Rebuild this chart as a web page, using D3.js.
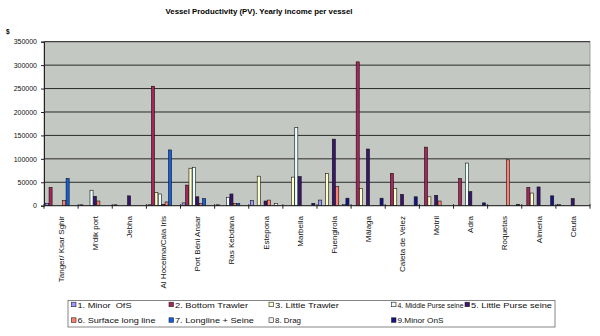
<!DOCTYPE html>
<html><head><meta charset="utf-8">
<script src="https://cdn.jsdelivr.net/npm/d3@7"></script>
<style>body{margin:0;background:#fff}svg{display:block;font-family:Arial,"Liberation Sans",sans-serif}</style>
</head><body>
<svg id="c" width="600" height="336"></svg>
<script>
const title = "Vessel Productivity (PV). Yearly income per vessel";
const categories = ["Tanger/ Ksar Sghir","M'dik port","Jebha","Al Hoceima/Cala Iris","Port Béni Ansar","Ras Kebdana","Estepona","Marbella","Fuengirola","Málaga","Caleta de Velez","Motril","Adra","Roquetas","Almeria","Ceuta"];
const seriesNames = ["1. Minor  OfS","2. Bottom Trawler","3. Little Trawler","4. Middle Purse seine","5. Little Purse seine","6. Surface long line","7. Longline + Seine","8. Drag","9.Minor OnS"];
const seriesColors = ["#9999FF","#A8245A","#FFFFCC","#EAFFFF","#3B1470","#FF8070","#1060E0","#F4F4FF","#141488"];
const s1 = [5000,2000,2000,2000,6000,2000,11000,0,12000,0,0,0,0,0,0,3000];
const s2 = [39000,0,0,255000,44000,0,0,0,0,307000,69000,125000,58000,0,39000,0];
const s3 = [0,0,0,28000,80000,0,63000,61000,69000,37000,37000,19000,0,0,27000,0];
const s4 = [0,33000,0,25000,82000,18000,0,167000,0,0,0,0,91000,0,0,0];
const s5 = [0,20000,21000,3000,19000,25000,10000,62000,142000,121000,24000,22000,30000,0,40000,15000];
const s6 = [11000,10000,0,8000,5000,5000,12000,0,41000,0,0,10000,0,98000,0,0];
const s7 = [58000,0,0,119000,15000,5000,0,0,0,0,0,0,0,0,0,0];
const s8 = [0,0,0,0,0,0,5000,0,3000,0,0,0,0,0,0,0];
const s9 = [0,0,0,0,0,0,0,5000,16000,16000,19000,0,6000,3000,21000,0];
const seriesValues = [s1,s2,s3,s4,s5,s6,s7,s8,s9];
const yTicks = [0,50000,100000,150000,200000,250000,300000,350000];

const svg = d3.select("#c");
const L=44, R=590, T=41.7, B=205.7;
const x0 = d3.scaleBand().domain(categories).range([L,R]).padding(0);
const x1 = d3.scaleBand().domain(d3.range(9)).range([1.3, x0.bandwidth()-1.8]).padding(0.1);
const y = d3.scaleLinear().domain([0,350000]).range([B,T]);

svg.append("text").attr("x",259).attr("y",14).attr("text-anchor","middle")
  .attr("font-size","8px").attr("font-weight","bold").attr("textLength",187).attr("lengthAdjust","spacingAndGlyphs").text(title);
svg.append("text").attr("x",6).attr("y",34).attr("font-size","6.5px").attr("font-weight","bold").text("$");

svg.append("rect").attr("x",L).attr("y",T).attr("width",R-L).attr("height",B-T).attr("fill","#C4C8C2").attr("stroke","#8a8a8a").attr("stroke-width",0.8);

// gridlines
svg.append("g").selectAll("line").data(yTicks.slice(1)).join("line")
  .attr("x1",L).attr("x2",R).attr("y1",d=>y(d)).attr("y2",d=>y(d))
  .attr("stroke","#2a2a2a").attr("stroke-width",1);

// y axis
const ya = svg.append("g").attr("transform",`translate(${L},0)`)
  .call(d3.axisLeft(y).tickValues(yTicks).tickSize(3).tickPadding(4).tickFormat(d3.format("d")));
ya.select(".domain").attr("stroke","#222");
ya.selectAll("text").attr("font-size","7px").attr("font-family","Arial,'Liberation Sans',sans-serif").attr("fill","#111");
ya.selectAll(".tick line").attr("stroke","#222");

// bars
const g = svg.append("g");
categories.forEach((c,ci)=>{
  seriesValues.forEach((vals,si)=>{
    const v = vals[ci];
    if(!v) return;
    g.append("rect").attr("x",x0(c)+x1(si)).attr("y",y(v)).attr("width",x1.bandwidth()).attr("height",B-y(v))
      .attr("fill",seriesColors[si]).attr("stroke","#111").attr("stroke-width",0.6);
  });
});

// x axis
svg.append("line").attr("x1",L).attr("x2",R).attr("y1",B).attr("y2",B).attr("stroke","#222").attr("stroke-width",1);
const bounds = categories.map(c=>x0(c)).concat([R]);
svg.append("g").selectAll("line").data(bounds).join("line")
  .attr("x1",d=>d).attr("x2",d=>d).attr("y1",B-1.5).attr("y2",B+3).attr("stroke","#222");
svg.append("g").selectAll("text").data(categories).join("text")
  .attr("transform",d=>`translate(${x0(d)+x0.bandwidth()/2+2.8},216) rotate(-90)`)
  .attr("text-anchor","end").attr("font-size","8px").attr("fill","#111").text(d=>d);

// legend
const lg = svg.append("g");
lg.append("rect").attr("x",68).attr("y",300.5).attr("width",487).attr("height",26.5).attr("fill","#fff").attr("stroke","#666").attr("stroke-width",0.8);
const colX = [71.5,169,269,391.5,465];
const layout = [[0,0],[1,0],[2,0],[3,0],[4,0],[0,1],[1,1],[2,1],[3,1]];
const legendWidths = [54,73,64,66,81,78,79,26,46];
seriesNames.forEach((n,i)=>{
  const [cx,row] = layout[i];
  const yy = row? 320.3 : 304.7;
  lg.append("rect").attr("x",colX[cx]).attr("y",yy-2.5).attr("width",4.5).attr("height",4.5)
    .attr("fill",seriesColors[i]).attr("stroke","#222").attr("stroke-width",0.6);
  lg.append("text").attr("x",colX[cx]+6).attr("y",yy).attr("dy","0.35em").attr("font-size","8px").attr("fill","#111")
    .attr("textLength",legendWidths[i]).attr("lengthAdjust","spacingAndGlyphs")
    .attr("xml:space","preserve").style("white-space","pre").text(n);
});
</script>
</body></html>
